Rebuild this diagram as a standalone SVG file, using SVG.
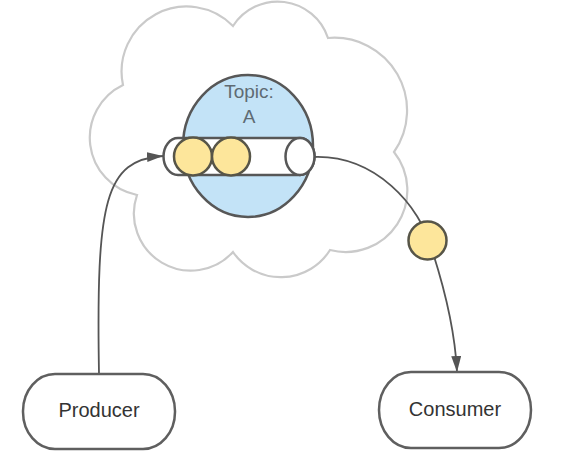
<svg xmlns="http://www.w3.org/2000/svg" width="567" height="461" viewBox="0 0 567 461">
<style>
.cloud{fill:#fff;stroke:#cacaca;stroke-width:2.2}
.topic{fill:#c3e3f7;stroke:#575757;stroke-width:2.5}
.tube{fill:#fff;stroke:#575757;stroke-width:2.5}
.msg{fill:#fde69b;stroke:#575548;stroke-width:2.5}
.node{fill:#fff;stroke:#5f5f5f;stroke-width:2.5}
.lbl{font-family:"Liberation Sans",Arial,sans-serif;font-size:20px;fill:#333;text-anchor:middle}
.tlbl{font-family:"Liberation Sans",Arial,sans-serif;font-size:19px;fill:#5f6b73;text-anchor:middle}
.edge{fill:none;stroke:#555;stroke-width:1.8}
</style>
<defs>
<marker id="arr" markerUnits="userSpaceOnUse" markerWidth="17" markerHeight="11" refX="16" refY="5" orient="auto">
<path d="M0,0 L16,5 L0,10 Z" fill="#555"/>
</marker>
</defs>
<g id="cloud">
<path class="cloud" d="M123,85 A65,65 0 0 1 233,26 A53,53 0 0 1 328,38 A72.7,72.7 0 0 1 394,152 A61.7,61.7 0 0 1 330,250 A58,58 0 0 1 233,252 A57,57 0 0 1 137,195 A58.4,58.4 0 0 1 123,85 Z"/>
</g>
<g id="topic">
<ellipse class="topic" cx="248" cy="146" rx="65" ry="71"/>
<text class="tlbl" x="249" y="98">Topic:</text>
<text class="tlbl" x="249" y="123">A</text>
</g>
<g id="queue">
<path class="tube" d="M178,138 H300 A14.5,18.5 0 0 1 300,175 H178 A14.5,18.5 0 0 1 178,138 Z"/>
<ellipse class="tube" cx="300" cy="156.5" rx="14.5" ry="18.5"/>
<circle class="msg" cx="193" cy="156.5" r="19"/>
<circle class="msg" cx="231" cy="156.5" r="19"/>
</g>
<g id="connectors">
<path class="edge" d="M99,374 C96,200 105,160 163,156" marker-end="url(#arr)"/>
<path class="edge" d="M314,157 C375,155 420,205 432,250 C445,290 455,330 457,372" marker-end="url(#arr)"/>
</g>
<g id="message">
<circle class="msg" cx="427.5" cy="240.5" r="19"/>
</g>
<g id="producer">
<rect class="node" x="23" y="374" width="152" height="75" rx="32" ry="37"/>
<text class="lbl" x="99" y="417">Producer</text>
</g>
<g id="consumer">
<rect class="node" x="379" y="372" width="152" height="76" rx="32" ry="38"/>
<text class="lbl" x="455" y="416">Consumer</text>
</g>
</svg>
